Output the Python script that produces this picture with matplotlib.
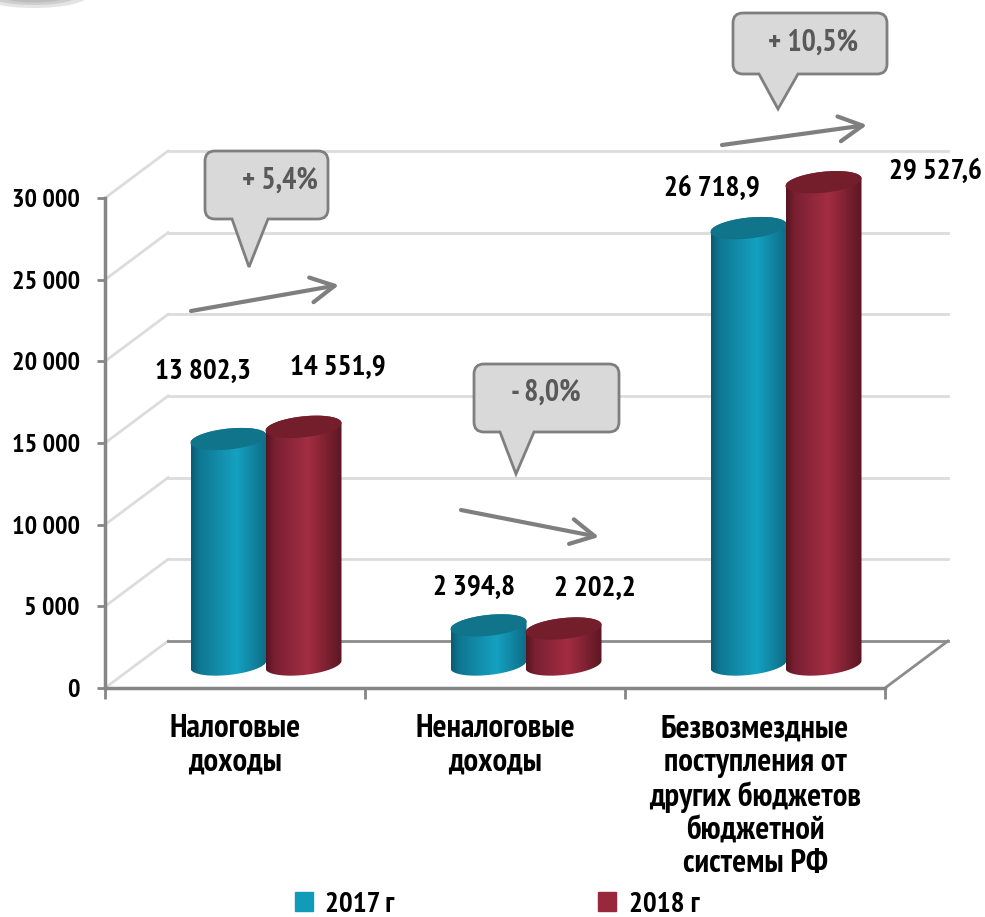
import numpy as np
import matplotlib
matplotlib.use('Agg')
import matplotlib.pyplot as plt
from matplotlib.colors import LinearSegmentedColormap
from matplotlib.patches import Ellipse, Patch, PathPatch, Polygon
from matplotlib.path import Path

categories = ['Налоговые\nдоходы', 'Неналоговые\nдоходы',
              'Безвозмездные\nпоступления от\nдругих бюджетов\nбюджетной\nсистемы РФ']
values_2017 = [13802.3, 2394.8, 26718.9]
values_2018 = [14551.9, 2202.2, 29527.6]
years = ['2017 г', '2018 г']
changes = ['+ 5,4%', '- 8,0%', '+ 10,5%']
y_ticks = [0, 5000, 10000, 15000, 20000, 25000, 30000]

W, H = 985, 917
L, R, T, B = 105, 885, 198, 688  # front plane of the chart, in pixels
PX_X = 3 / (R - L)  # one pixel in category units
PX_Y = 30000 / (B - T)  # one pixel in value units
DEPTH_X = 63 * PX_X
DEPTH_Y = 47 * PX_Y

plt.rcParams['font.family'] = ['PT Sans Narrow', 'Roboto Condensed', 'DejaVu Sans']
plt.rcParams['font.weight'] = 'bold'

blue = LinearSegmentedColormap.from_list('b', [(0, '#0b5a70'), (0.1, '#0f7690'), (0.6, '#15a1c1'), (1, '#0d6c85')])
red = LinearSegmentedColormap.from_list('r', [(0, '#571421'), (0.12, '#7a2033'), (0.55, '#a32d42'), (1, '#5c1723')])


def fmt(v):
    return f'{v:,.1f}'.replace(',', ' ').replace('.', ',')


def ellipse(cx, cy, t):
    # the caps are tilted a bit, left side lower than right
    a = 38 * PX_X
    b = 10.5 * PX_Y
    return cx + a * np.cos(t), cy + b * np.sin(t) + 0.1 * 38 * PX_Y * np.cos(t)


def cylinder(ax, x, v, cmap, top, z):
    base = DEPTH_Y / 2
    xc = x + DEPTH_X / 2
    # body outline: upper arc of the top cap, then lower arc of the base
    tx, ty = ellipse(xc, base + v, np.linspace(np.pi, 0, 60))
    bx, by = ellipse(xc, base, np.linspace(0, -np.pi, 60))
    pts = np.r_[np.c_[tx, ty], np.c_[bx, by]]
    body = Polygon(pts, closed=True, fc='none', ec='none', transform=ax.transData, clip_on=False)
    ax.add_patch(body)
    grad = np.linspace(0, 1, 256).reshape(1, -1)
    im = ax.imshow(grad, cmap=cmap, aspect='auto', zorder=z, interpolation='bilinear',
                   extent=(pts[:, 0].min(), pts[:, 0].max(), pts[:, 1].min(), pts[:, 1].max()))
    im.set_clip_path(body)
    im.set_clip_box(fig.bbox)
    cx, cy = ellipse(xc, base + v, np.linspace(0, 2 * np.pi, 120))
    ax.fill(cx, cy, color=top, zorder=z + 0.1, clip_on=False, lw=0)


def callout(ax, x0, y0, x1, y1, t0, t1, tip, text, tx, ty):
    r = 10
    verts = [(x0 + r, y0), (x1 - r, y0), (x1, y0), (x1, y0 + r), (x1, y1 - r), (x1, y1), (x1 - r, y1),
             (t1, y1), tip, (t0, y1), (x0 + r, y1), (x0, y1), (x0, y1 - r), (x0, y0 + r), (x0, y0), (x0 + r, y0)]
    codes = [Path.MOVETO, Path.LINETO, Path.CURVE3, Path.CURVE3, Path.LINETO, Path.CURVE3, Path.CURVE3,
             Path.LINETO, Path.LINETO, Path.LINETO, Path.LINETO, Path.CURVE3, Path.CURVE3, Path.LINETO,
             Path.CURVE3, Path.CURVE3]
    ax.add_patch(PathPatch(Path(verts, codes), fc='#d9d9d9', ec='#7f7f7f', lw=2))
    ax.text(tx, ty, text, ha='center', va='center', fontsize=21.5, color='#595959')


fig = plt.figure(figsize=(W / 100, H / 100), dpi=100)
ax = fig.add_axes([L / W, 1 - B / H, (R - L) / W, (B - T) / H])

# back wall and floor
for v in y_ticks:
    c = '#8c8c8c' if v == 0 else '#dcdcdc'
    ax.plot([-0.5, -0.5 + DEPTH_X], [v, v + DEPTH_Y], color='#dcdcdc', lw=2, clip_on=False, zorder=1)
    ax.plot([-0.5 + DEPTH_X, 2.5 + DEPTH_X], [v + DEPTH_Y, v + DEPTH_Y], color=c, lw=2, clip_on=False, zorder=1)
ax.plot([2.5, 2.5 + DEPTH_X], [0, DEPTH_Y], color='#8c8c8c', lw=2, clip_on=False, zorder=1)

for i in range(3):
    cylinder(ax, i - 38 * PX_X, values_2017[i], blue, '#10748b', 3)
    cylinder(ax, i + 37 * PX_X, values_2018[i], red, '#741e2c', 4)

ax.set_xlim(-0.5, 2.5)
ax.set_ylim(0, 30000)
for s in ['top', 'right']:
    ax.spines[s].set_visible(False)
for s in ['left', 'bottom']:
    ax.spines[s].set_color('#868686')
    ax.spines[s].set_linewidth(2.5)
ax.set_yticks(y_ticks)
ax.set_yticklabels([fmt(v)[:-2] for v in y_ticks], fontsize=19)
ax.set_xticks([-0.5, 0.5, 1.5, 2.5])
ax.set_xticklabels([])
ax.set_xticks([0, 1, 2], minor=True)
ax.set_xticklabels(categories, minor=True, fontsize=23.5, linespacing=1.14)
ax.tick_params(axis='y', length=6, width=2, color='#868686', pad=12)
ax.tick_params(axis='x', which='major', length=8, width=2, color='#868686')
ax.tick_params(axis='x', which='minor', length=0, pad=19)

# overlay in pixels for annotations
over = fig.add_axes([0, 0, 1, 1])
over.set_xlim(0, W)
over.set_ylim(H, 0)
over.axis('off')

label_pos = [(203, 372), (338, 368), (474, 588), (595, 589), (712, 189), (935, 172)]
label_vals = [values_2017[0], values_2018[0], values_2017[1], values_2018[1], values_2017[2], values_2018[2]]
for (x, y), v in zip(label_pos, label_vals):
    over.text(x, y, fmt(v), ha='center', va='center', fontsize=21, color='black')

callout(over, 205, 151, 328, 219, 232, 268, (249, 267), changes[0], 280, 181)
callout(over, 474, 364, 619, 432, 500, 534, (516, 474), changes[1], 546, 393)
callout(over, 733, 13, 887, 74, 759, 798, (778, 109), changes[2], 813, 43)

for a, b in [((191, 311), (339, 285)), ((461, 510), (599, 537)), ((722, 145), (867, 125))]:
    over.annotate('', xy=b, xytext=a,
                  arrowprops=dict(arrowstyle='->,head_length=0.85,head_width=0.45', color='#7f7f7f', lw=3,
                                  shrinkA=0, shrinkB=0, mutation_scale=20))

# faint grey smudge in the corner
for w, h in [(110, 26), (90, 20), (70, 15), (50, 10)]:
    over.add_patch(Ellipse((34, -5), w, h, fc='#6e6e6e', ec='none', alpha=0.18))

fig.legend(handles=[Patch(color='#109bb9'), Patch(color='#98283c')], labels=years, loc='center',
           bbox_to_anchor=(497 / W, 1 - 905 / H), ncol=2, frameon=False, fontsize=21,
           handlelength=0.62, handleheight=0.62, handletextpad=0.42, columnspacing=7.0)

fig.savefig('out.png', dpi=100)
